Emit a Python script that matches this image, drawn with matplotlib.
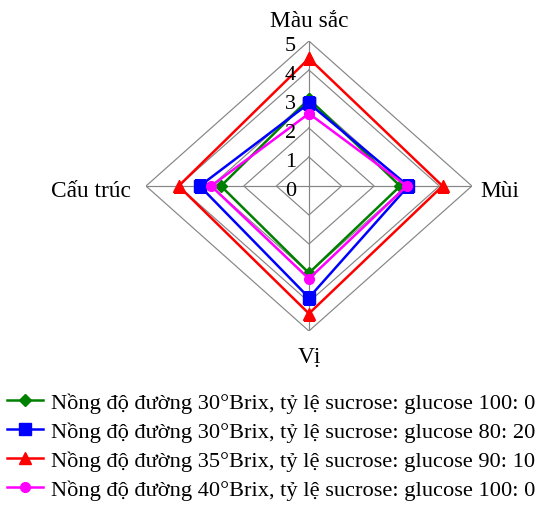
import numpy as np
import matplotlib
matplotlib.use('Agg')
import matplotlib.pyplot as plt

plt.rcParams['font.family'] = ['Liberation Serif', 'DejaVu Serif']

# criteria around the chart, clockwise from top
criteria = ['Màu sắc', 'Mùi', 'Vị', 'Cấu trúc']
ring_levels = [1, 2, 3, 4, 5]
radial_labels = ['0', '1', '2', '3', '4', '5']

green_vals = [3.0, 2.8, 3.0, 2.7]
blue_vals = [2.85, 3.05, 3.85, 3.35]
red_vals = [4.4, 4.1, 4.4, 4.0]
magenta_vals = [2.5, 3.0, 3.2, 3.0]

series_names = [
    'Nồng độ đường 30°Brix, tỷ lệ sucrose: glucose 100: 0',
    'Nồng độ đường 30°Brix, tỷ lệ sucrose: glucose 80: 20',
    'Nồng độ đường 35°Brix, tỷ lệ sucrose: glucose 90: 10',
    'Nồng độ đường 40°Brix, tỷ lệ sucrose: glucose 100: 0',
]

fig = plt.figure(figsize=(5.36, 5.06), dpi=100)
ax = fig.add_axes((0.2724, 0.3439, 0.608, 0.573), projection='polar')
ax.set_aspect('auto')
ax.set_theta_zero_location('N')
ax.set_theta_direction(-1)
ax.set_ylim(0, 5)
ax.grid(False)
ax.set_xticks([])
ax.set_yticks([])
ax.spines['polar'].set_visible(False)

n = len(criteria)
theta = np.arange(n) * 2 * np.pi / n
theta_closed = np.append(theta, theta[0])

# diamond grid + spokes
for lev in ring_levels:
    ax.plot(theta_closed, [lev] * (n + 1), color='#858585', lw=0.85, zorder=1)
for t in theta:
    ax.plot([t, t], [0, ring_levels[-1]], color='#858585', lw=0.85, zorder=1)

styles = [
    (green_vals, 'green', 'D', 6),
    (blue_vals, 'blue', 's', 8),
    (red_vals, 'red', '^', 9),
    (magenta_vals, 'magenta', 'o', 7),
]
for (vals, col, mk, ms), name in zip(styles, series_names):
    ax.plot(theta_closed, vals + vals[:1], color=col, lw=1.8, marker=mk,
            markersize=ms, label=name, zorder=3)

# radial tick labels along the top spoke
for i, lab in enumerate(radial_labels):
    ax.annotate(lab, xy=(0, i), xytext=(-13, -9), textcoords='offset pixels',
                ha='right', va='baseline', fontsize=16)

# criterion labels
offsets = [(0, 15, 'center'), (8, -10, 'left'), (0, -31, 'center'), (-15, -10, 'right')]
for t, lab, (dx, dy, ha) in zip(theta, criteria, offsets):
    ax.annotate(lab, xy=(t, 5), xytext=(dx, dy), textcoords='offset pixels',
                ha=ha, va='baseline', fontsize=16.8)

fig.legend(loc='upper left', bbox_to_anchor=(0.013, 0.222), frameon=False,
           fontsize=16.1, handlelength=1.6, handletextpad=0.35, labelspacing=0.37,
           borderaxespad=0, borderpad=0)

fig.savefig('out.png', dpi=100)
